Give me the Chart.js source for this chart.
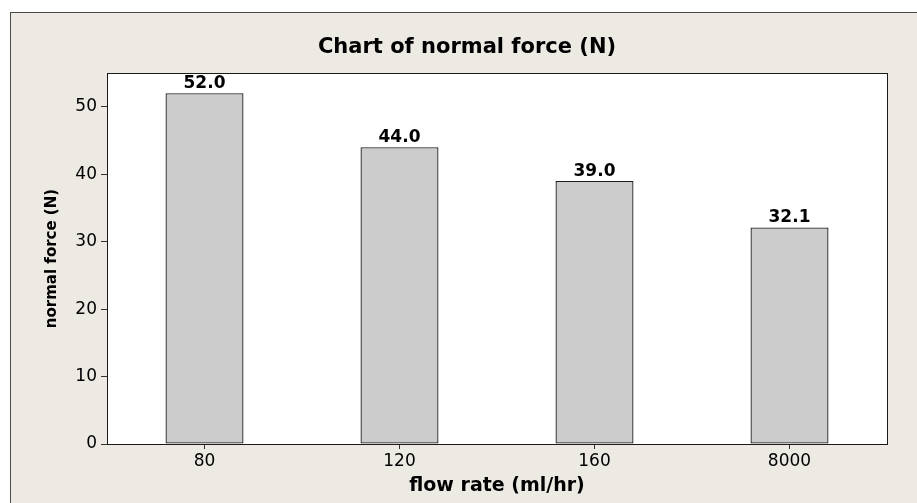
<!DOCTYPE html>
<html>
<head>
<meta charset="utf-8">
<script src="https://cdn.jsdelivr.net/npm/chart.js@4"></script>
<style>
  html, body { margin: 0; padding: 0; background: #fff; }
  canvas { display: block; }
</style>
</head>
<body>
<canvas id="forceChart" width="917" height="503"></canvas>
<script>
// chart data
const flowRates = ['80', '120', '160', '8000'];
const normalForce = [52.0, 44.0, 39.0, 32.1];
const yTicks = [0, 10, 20, 30, 40, 50];

const chartTitle = 'Chart of normal force (N)';
const xTitle = 'flow rate (ml/hr)';
const yTitle = 'normal force (N)';

const FONT = "'DejaVu Sans', Verdana, sans-serif";

// outer frame, white plot area, and the title
const framePlugin = {
  id: 'frame',
  beforeDraw(chart) {
    const { ctx, chartArea: a } = chart;
    ctx.save();
    ctx.fillStyle = '#ede9e3';
    ctx.fillRect(10, 12, chart.width, chart.height);
    ctx.strokeStyle = '#4a4a4a';
    ctx.lineWidth = 1;
    ctx.strokeRect(10.5, 12.5, chart.width + 10, chart.height + 10);
    ctx.fillStyle = '#ffffff';
    ctx.fillRect(a.left, a.top, a.right - a.left, a.bottom - a.top);
    ctx.restore();
  },
  afterDraw(chart) {
    const { ctx, chartArea: a } = chart;
    ctx.save();
    ctx.strokeStyle = '#1a1a1a';
    ctx.lineWidth = 1;
    ctx.strokeRect(a.left + 0.5, a.top + 0.5, a.right - a.left, a.bottom - a.top);
    ctx.fillStyle = '#000';
    ctx.font = 'bold 21px ' + FONT;
    ctx.textAlign = 'center';
    ctx.textBaseline = 'middle';
    ctx.fillText(chartTitle, 467, 48);
    ctx.restore();
  }
};

// value labels above the bars
const valueLabels = {
  id: 'valueLabels',
  afterDatasetsDraw(chart) {
    const { ctx } = chart;
    const meta = chart.getDatasetMeta(0);
    ctx.save();
    ctx.fillStyle = '#000';
    ctx.font = 'bold 17px ' + FONT;
    ctx.textAlign = 'center';
    ctx.textBaseline = 'bottom';
    meta.data.forEach((bar, i) => {
      ctx.fillText(normalForce[i].toFixed(1), bar.x, bar.y - 1);
    });
    ctx.restore();
  }
};

new Chart(document.getElementById('forceChart'), {
  type: 'bar',
  data: {
    labels: flowRates,
    datasets: [{
      data: normalForce,
      backgroundColor: '#cccccc',
      borderColor: '#1e1e1e',
      borderWidth: 1.3,
      borderSkipped: false,
      barPercentage: 0.4,
      categoryPercentage: 1.0
    }]
  },
  options: {
    responsive: false,
    animation: false,
    layout: { padding: { top: 73, right: 30, left: 0, bottom: 0 } },
    plugins: {
      legend: { display: false },
      title: { display: false },
      tooltip: { enabled: false }
    },
    scales: {
      x: {
        grid: { offset: false, drawOnChartArea: false, drawTicks: true, tickLength: 5, color: '#333', tickColor: '#333' },
        border: { display: true, color: '#1a1a1a' },
        ticks: { color: '#000', padding: 2, font: { family: FONT, size: 17 } },
        title: {
          display: true,
          text: xTitle,
          color: '#000',
          font: { family: FONT, size: 19, weight: 'bold' },
          padding: { top: 0, bottom: 6 }
        },
        afterFit(scale) { scale.height = 59; }
      },
      y: {
        min: 0,
        max: 55,
        grid: { drawOnChartArea: false, drawTicks: true, tickLength: 6, color: '#333', tickColor: '#333' },
        border: { display: true, color: '#1a1a1a' },
        ticks: { color: '#000', padding: 4, font: { family: FONT, size: 17 } },
        afterBuildTicks(scale) {
          scale.ticks = yTicks.map(v => ({ value: v }));
        },
        title: {
          display: true,
          text: yTitle,
          color: '#000',
          font: { family: FONT, size: 15, weight: 'bold' },
          padding: { top: 43, bottom: 0 }
        },
        afterFit(scale) { scale.width = 107; }
      }
    }
  },
  plugins: [framePlugin, valueLabels]
});
</script>
</body>
</html>
